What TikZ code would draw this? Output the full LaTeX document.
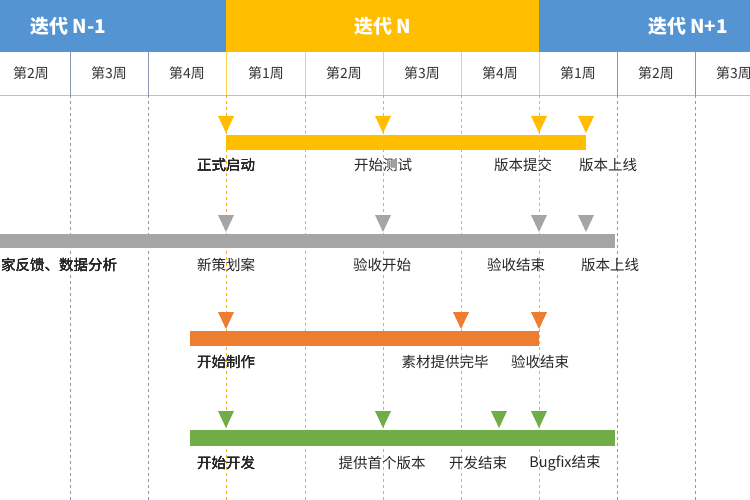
\documentclass[tikz,border=0pt]{standalone}
\usepackage{fontspec}
\setmainfont{Noto Sans CJK SC}
\usetikzlibrary{positioning}
\definecolor{hblue}{RGB}{84,148,210}
\definecolor{hyel}{RGB}{255,190,0}
\definecolor{bgray}{RGB}{165,165,165}
\definecolor{bora}{RGB}{237,125,49}
\definecolor{bgreen}{RGB}{112,173,71}
\definecolor{gline}{RGB}{140,150,175}
\tikzset{
  lbl/.style={font=\fontsize{14.5}{14.5}\selectfont, inner sep=1pt, text=black!85},
  wk/.style={font=\fontsize{14}{14}\selectfont, text=black!80},
  ttl/.style={font=\bfseries\fontsize{19}{19}\selectfont, text=white},
}
% downward triangle marker at x, tip at y
\newcommand{\tmark}[3]{\fill[#1] (#2-8,#3-17) -- (#2+8,#3-17) -- (#2,#3) -- cycle;}
\begin{document}
\begin{tikzpicture}[x=1pt,y=-1pt]
\useasboundingbox (0,0) rectangle (750,500);
\fill[white] (0,0) rectangle (750,500);
%header
\fill[hblue] (0,0) rectangle (750,52);
\fill[hyel] (226,0) rectangle (539,52);
\node[ttl] (itA) at (68,26) {迭代 N-1};
\node[ttl] (itB) at (383,26) {迭代 N};
\node[ttl] (itC) at (688,26) {迭代 N+1};
%weeks
\draw[gline!60] (0,95) -- (750,95);
\foreach \x/\w in {31/2,109/3,187/4,266/1,344/2,422/3,500/4,578/1,656/2,734/3}
  \node[wk] (w\x) at (\x,73) {第\w 周};
\foreach \x in {70,148,617,695}{
  \draw[gline] (\x,52) -- (\x,95);
  \draw[gline, dashed] (\x,95) -- (\x,500);
}
\foreach \x in {226,305,383,461,539}{
  \draw[hyel!70] (\x,52) -- (\x,95);
  \draw[hyel!80!orange, dashed] (\x,95) -- (\x,500);
}
%bar 1
\fill[hyel] (226,135) rectangle (586,150);
\foreach \x in {226,383,539,586} \tmark{hyel}{\x}{133}
\node[lbl] (a1) at (226,165) {正式启动};
\node[lbl] (a2) at (383,165) {开始测试};
\node[lbl] (a3) at (523,165) {版本提交};
\node[lbl] (a4) at (608,165) {版本上线};
%bar 2
\fill[bgray] (0,234) rectangle (615,248);
\foreach \x in {226,383,539,586} \tmark{bgray}{\x}{232}
\node[lbl, anchor=west] (b0) at (0,265) {家反馈、数据分析};
\node[lbl] (b1) at (226,265) {新策划案};
\node[lbl] (b2) at (382,265) {验收开始};
\node[lbl] (b3) at (516,265) {验收结束};
\node[lbl] (b4) at (610,265) {版本上线};
%bar 3
\fill[bora] (190,331) rectangle (539,346);
\foreach \x in {226,461,539} \tmark{bora}{\x}{329}
\node[lbl] (c1) at (226,362) {开始制作};
\node[lbl] (c2) at (445,362) {素材提供完毕};
\node[lbl] (c3) at (540,362) {验收结束};
%bar 4
\fill[bgreen] (190,430) rectangle (615,446);
\foreach \x in {226,383,499,539} \tmark{bgreen}{\x}{428}
\node[lbl] (d1) at (226,463) {开始开发};
\node[lbl] (d2) at (382,463) {提供首个版本};
\node[lbl] (d3) at (478,463) {开发结束};
\node[lbl] (d4) at (565,463) {Bugfix结束};
\end{tikzpicture}
\end{document}
